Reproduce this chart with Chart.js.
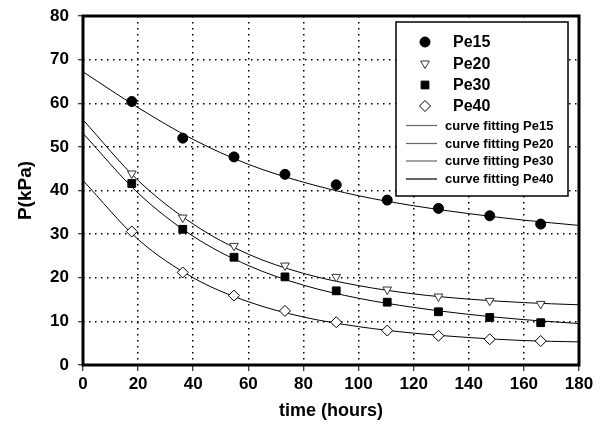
<!DOCTYPE html>
<html>
<head>
<meta charset="utf-8">
<script src="https://cdn.jsdelivr.net/npm/chart.js@4"></script>
<style>
    html, body { margin: 0; padding: 0; background: #fff; }
    #wrap { width: 605px; height: 432px; }
</style>
</head>
<body>
<div id="wrap"><canvas id="chart" width="605" height="432"></canvas></div>
<script>
// measured points
var timeH = [17.7, 36.2, 54.8, 73.3, 91.9, 110.4, 129, 147.6, 166.1];
var pe15 = [60.4, 52.0, 47.7, 43.7, 41.3, 37.8, 35.9, 34.2, 32.3];
var pe20 = [43.9, 33.8, 27.3, 22.8, 20.2, 17.3, 15.7, 14.7, 14.0];
var pe30 = [41.6, 31.1, 24.7, 20.2, 17.0, 14.4, 12.2, 10.9, 9.7];
var pe40 = [30.6, 21.2, 15.9, 12.4, 9.8, 7.9, 6.7, 5.9, 5.5];

// fitted curves
var fitT = [0, 20, 40, 60, 80, 100, 120, 140, 160, 180];
var fit15 = [67.2, 59.0, 51.7, 46.0, 41.9, 38.8, 36.5, 34.7, 33.2, 32.0];
var fit20 = [56.2, 42.3, 32.3, 25.4, 21.0, 18.2, 16.3, 15.1, 14.3, 13.8];
var fit30 = [53.1, 39.4, 29.5, 22.8, 18.3, 15.3, 13.2, 11.6, 10.4, 9.5];
var fit40 = [42.3, 28.8, 20.0, 14.5, 11.0, 8.8, 7.3, 6.3, 5.6, 5.3];

var xTicks = [0, 20, 40, 60, 80, 100, 120, 140, 160, 180];
var yTicks = [0, 10, 20, 30, 40, 50, 60, 70, 80];

var FONT = "'Liberation Sans', Arial, sans-serif";

var pairs = function(xs, ys) {
    var out = [];
    for (var i = 0; i < xs.length; i++) {
        out.push({x: xs[i], y: ys[i]});
    }
    return out;
};

var fitLine = function(label, ys) {
    return {
        type: "line",
        label: label,
        data: pairs(fitT, ys),
        borderColor: "#000",
        borderWidth: 1,
        pointRadius: 0,
        cubicInterpolationMode: "monotone",
        fill: false,
        order: 2
    };
};

var markers = function(label, ys, style, radius, fillC, lineC, rot) {
    return {
        type: "scatter",
        label: label,
        data: pairs(timeH, ys),
        pointStyle: style,
        pointRadius: radius,
        pointRotation: rot || 0,
        pointBackgroundColor: fillC,
        pointBorderColor: lineC,
        pointBorderWidth: 1,
        order: 1
    };
};

// thick frame + hand made legend box
var framePlugin = {
    id: "framePlugin",
    afterDraw: function(chart) {
        var ctx = chart.ctx;
        var a = chart.chartArea;
        ctx.save();
        ctx.strokeStyle = "#000";
        ctx.lineWidth = 3;
        ctx.strokeRect(a.left, a.top, a.right - a.left, a.bottom - a.top);

        // legend
        var bx = 396, by = 22, bw = 172, bh = 174;
        ctx.fillStyle = "#fff";
        ctx.fillRect(bx, by, bw, bh);
        ctx.lineWidth = 1.5;
        ctx.strokeRect(bx, by, bw, bh);

        var symbols = [
            {label: "Pe15", style: "circle", r: 5, fill: "#000", line: "#000", rot: 0, y: 42},
            {label: "Pe20", style: "triangle", r: 5, fill: "#fff", line: "#333", rot: 180, y: 63.5},
            {label: "Pe30", style: "rect", r: 5.5, fill: "#000", line: "#000", rot: 0, y: 85},
            {label: "Pe40", style: "rectRot", r: 5.5, fill: "#fff", line: "#000", rot: 0, y: 106}
        ];
        ctx.textBaseline = "middle";
        ctx.textAlign = "left";
        symbols.forEach(function(s) {
            ctx.fillStyle = s.fill;
            ctx.strokeStyle = s.line;
            ctx.lineWidth = 1;
            Chart.helpers.drawPoint(ctx, {pointStyle: s.style, radius: s.r, rotation: s.rot, borderWidth: 1}, 425, s.y);
            ctx.fillStyle = "#000";
            ctx.font = "bold 16px " + FONT;
            ctx.fillText(s.label, 453, s.y + 1);
        });

        var fits = ["curve fitting Pe15", "curve fitting Pe20", "curve fitting Pe30", "curve fitting Pe40"];
        var fy = [125.5, 143.5, 161, 179];
        for (var i = 0; i < fits.length; i++) {
            ctx.strokeStyle = i < 3 ? "#666" : "#000";
            ctx.lineWidth = 1.2;
            ctx.beginPath();
            ctx.moveTo(406, fy[i]);
            ctx.lineTo(437, fy[i]);
            ctx.stroke();
            ctx.fillStyle = "#000";
            ctx.font = "bold 13px " + FONT;
            ctx.fillText(fits[i], 445, fy[i] + 0.5);
        }
        ctx.restore();
    }
};

var ctx = document.getElementById("chart").getContext("2d");
var chart = new Chart(ctx, {
    data: {
        datasets: [
            fitLine("curve fitting Pe15", fit15),
            fitLine("curve fitting Pe20", fit20),
            fitLine("curve fitting Pe30", fit30),
            fitLine("curve fitting Pe40", fit40),
            markers("Pe15", pe15, "circle", 5, "#000", "#000"),
            markers("Pe20", pe20, "triangle", 5, "#fff", "#333", 180),
            markers("Pe30", pe30, "rect", 5.5, "#000", "#000"),
            markers("Pe40", pe40, "rectRot", 5.5, "#fff", "#000")
        ]
    },
    options: {
        responsive: false,
        animation: false,
        layout: {
            padding: {top: 16, right: 26, left: 0, bottom: 0}
        },
        plugins: {
            legend: {display: false},
            tooltip: {enabled: false}
        },
        scales: {
            x: {
                type: "linear",
                min: 0,
                max: 180,
                afterBuildTicks: function(scale) {
                    scale.ticks = xTicks.map(function(v) { return {value: v}; });
                },
                afterFit: function(scale) {
                    scale.height = 67;
                    scale.paddingLeft = 0;
                    scale.paddingRight = 0;
                },
                border: {display: false, dash: [1.5, 4.5]},
                grid: {
                    color: function(c) { return (c.tick.value === 0 || c.tick.value === 180) ? "rgba(0,0,0,0)" : "#000"; },
                    lineWidth: 1.5,
                    drawTicks: true,
                    tickLength: 6,
                    tickColor: "#000",
                    tickWidth: 1,
                    tickBorderDash: []
                },
                ticks: {
                    color: "#000",
                    padding: 3,
                    maxRotation: 0,
                    font: {family: FONT, size: 17, weight: "bold"}
                },
                title: {
                    display: true,
                    text: "time (hours)",
                    color: "#000",
                    padding: {top: 0, bottom: 10},
                    font: {family: FONT, size: 18, weight: "bold"}
                }
            },
            y: {
                type: "linear",
                min: 0,
                max: 80,
                afterBuildTicks: function(scale) {
                    scale.ticks = yTicks.map(function(v) { return {value: v}; });
                },
                afterFit: function(scale) {
                    scale.width = 83;
                    scale.paddingTop = 0;
                    scale.paddingBottom = 0;
                },
                border: {display: false, dash: [1.5, 4.5]},
                grid: {
                    color: function(c) { return (c.tick.value === 0 || c.tick.value === 80) ? "rgba(0,0,0,0)" : "#000"; },
                    lineWidth: 1.5,
                    drawTicks: true,
                    tickLength: 5,
                    tickColor: "#000",
                    tickWidth: 1,
                    tickBorderDash: []
                },
                ticks: {
                    color: "#000",
                    padding: 9,
                    font: {family: FONT, size: 17, weight: "bold"}
                },
                title: {
                    display: true,
                    text: "P(kPa)",
                    color: "#000",
                    padding: {top: 14, bottom: 0},
                    font: {family: FONT, size: 19, weight: "bold"}
                }
            }
        }
    },
    plugins: [framePlugin]
});
</script>
</body>
</html>
